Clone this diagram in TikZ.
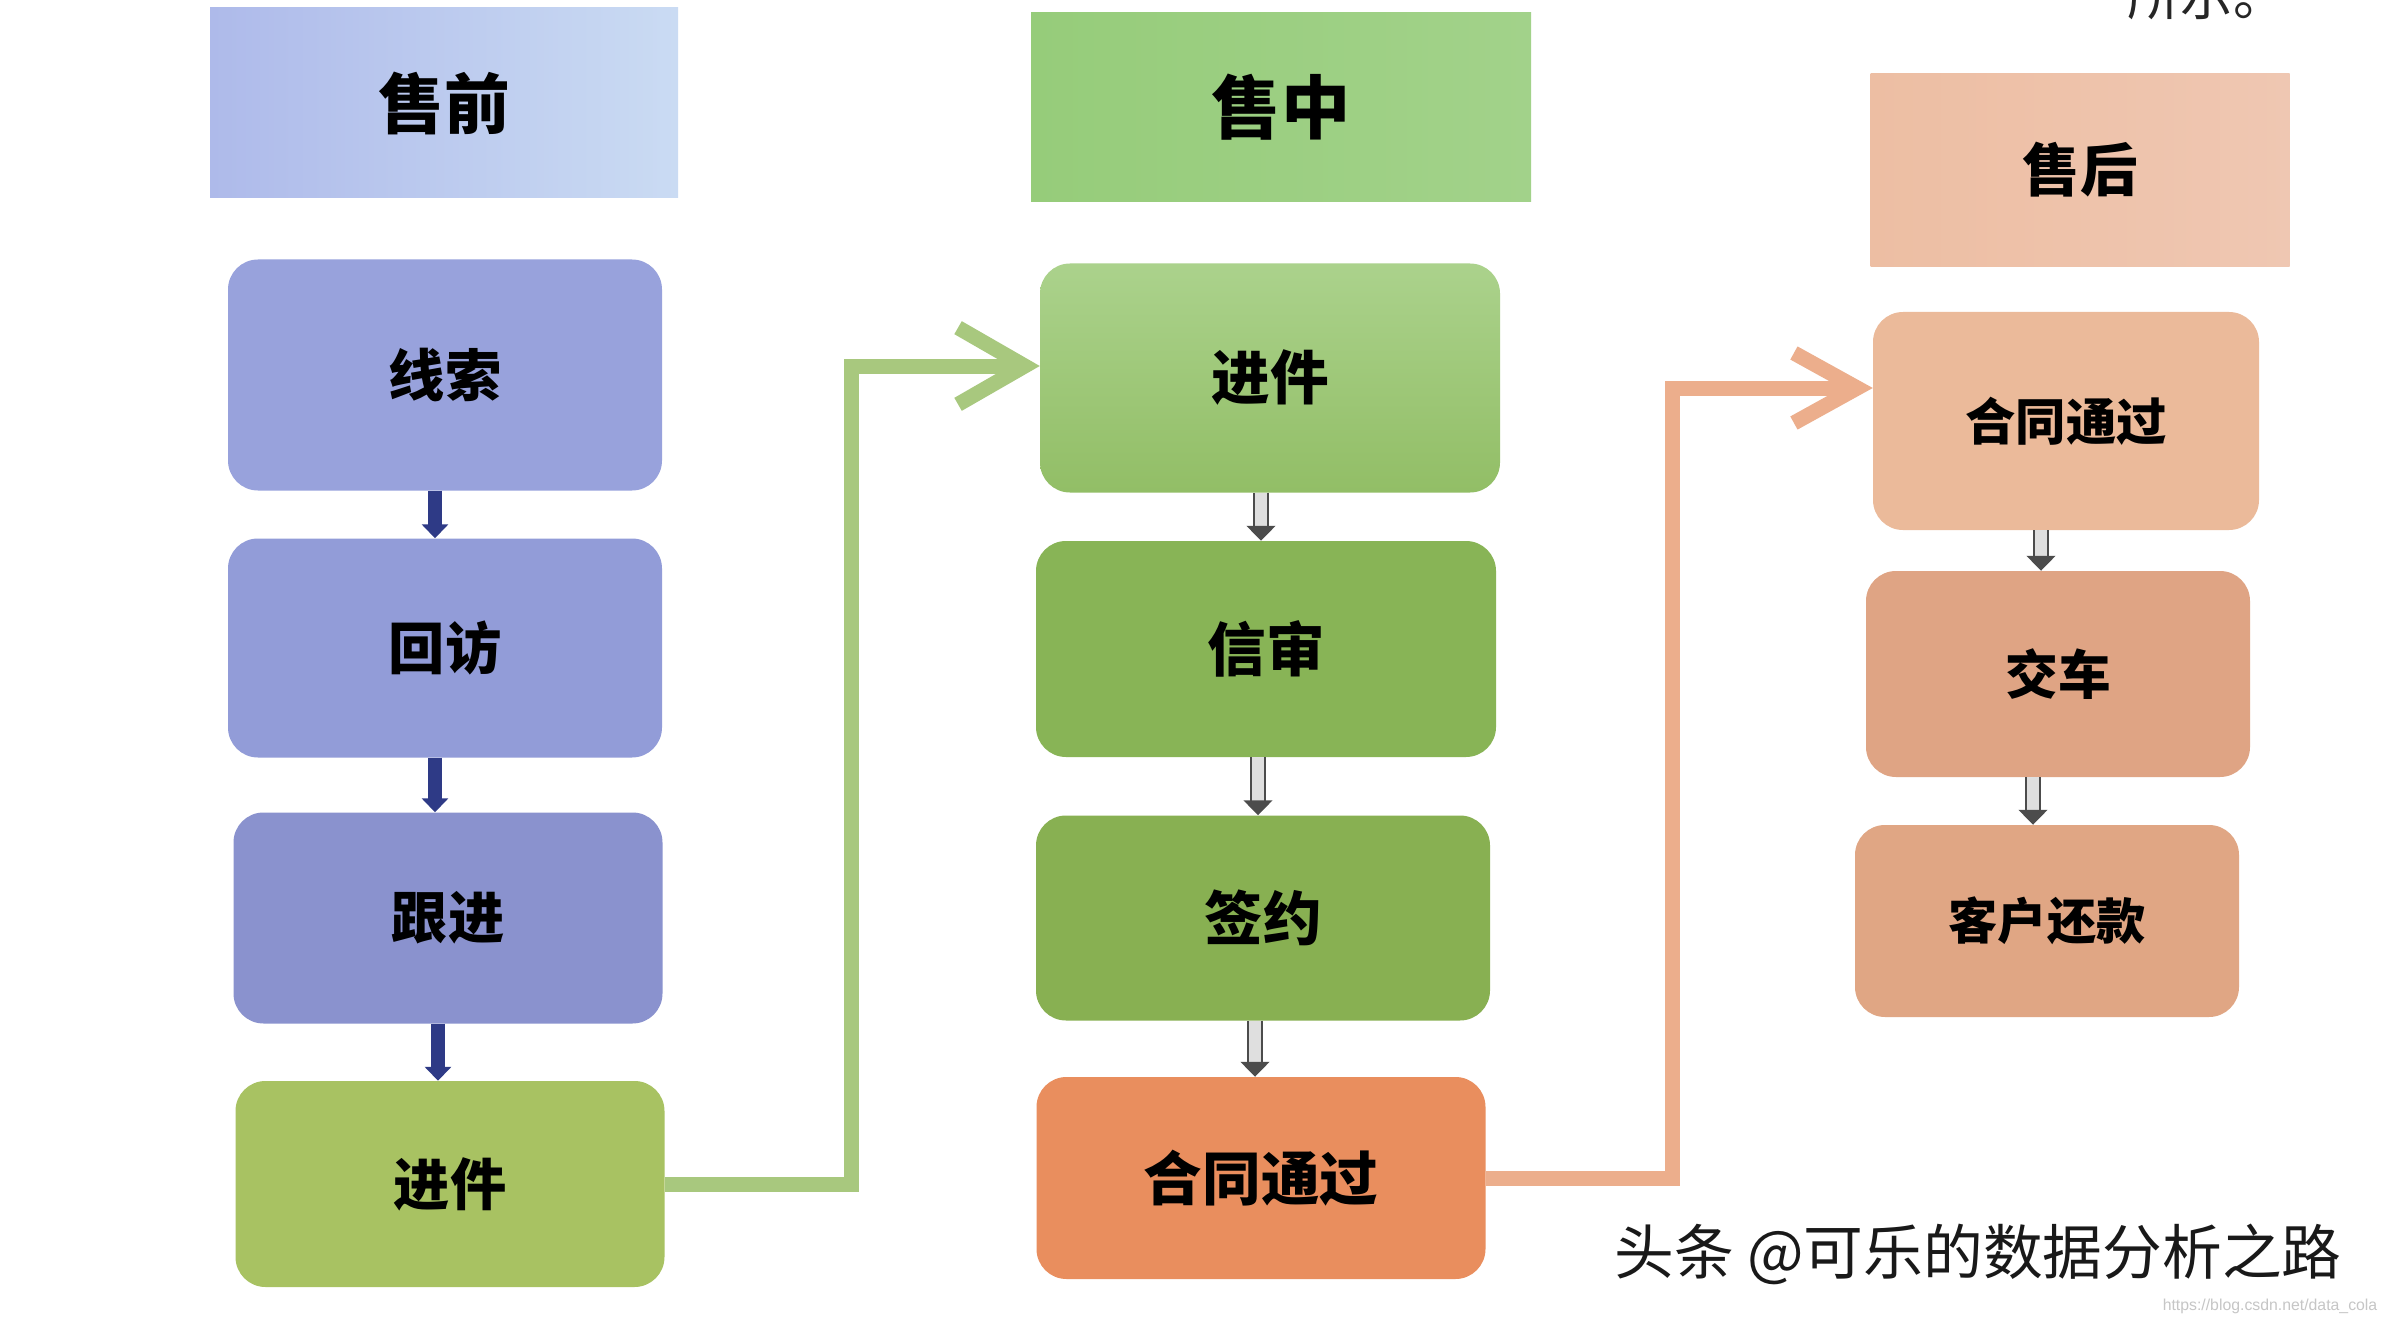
\documentclass[tikz,border=0pt]{standalone}
\usepackage{fontspec}
\setmainfont{Noto Sans CJK SC}
\newfontfamily\urlfont{Liberation Sans}
\usetikzlibrary{arrows.meta}
\definecolor{hA1}{HTML}{AEBAEA}
\definecolor{hA2}{HTML}{CADBF3}
\definecolor{hB1}{HTML}{96CC7A}
\definecolor{hB2}{HTML}{A2D28A}
\definecolor{hC1}{HTML}{EDBEA3}
\definecolor{hC2}{HTML}{EFC7B2}
\definecolor{cA1}{HTML}{98A2DC}
\definecolor{cA2}{HTML}{929CD8}
\definecolor{cA3}{HTML}{8A92CE}
\definecolor{cA4}{HTML}{A8C262}
\definecolor{cB1t}{HTML}{ABD28C}
\definecolor{cB1b}{HTML}{92BE66}
\definecolor{cB2}{HTML}{88B456}
\definecolor{cB3}{HTML}{88B052}
\definecolor{cB4}{HTML}{E98E5E}
\definecolor{cC1}{HTML}{EBBA9A}
\definecolor{cC2}{HTML}{DFA484}
\definecolor{cC3}{HTML}{E0A684}
\definecolor{gline}{HTML}{A8C87E}
\definecolor{oline}{HTML}{ECAE8C}
\definecolor{navy}{HTML}{2E3A86}
\begin{document}
\begin{tikzpicture}[x=0.3mm,y=-0.3mm,
  sz/.style 2 args={minimum width=#1*0.3mm, minimum height=#2*0.3mm},
  box/.style={rounded corners=9mm, inner sep=0pt, text=black},
  hdr/.style={inner sep=0pt, text=black, font=\bfseries\fontsize{56}{60}\selectfont},
  fA/.style={font=\bfseries\fontsize{48}{52}\selectfont},
  fB/.style={font=\bfseries\fontsize{50}{54}\selectfont},
  fC/.style={font=\bfseries\fontsize{43}{47}\selectfont},
  barrow/.style={draw=navy, line width=4.2mm, -{Triangle[length=4.2mm,width=7.8mm]}},
  garrow/.style={draw=gray!60!black, double=gray!25, line width=0.8mm, double distance=3.4mm, -{Triangle[length=4.5mm,width=8.6mm]}},
  gconn/.style={draw=gline, line width=4.5mm, -{Straight Barb[length=20mm,width=23mm]}},
  oconn/.style={draw=oline, line width=4.5mm, -{Straight Barb[length=19mm,width=21mm]}}
]
\useasboundingbox (0,0) rectangle (2388,1324);
\fill[white] (0,0) rectangle (2388,1324);

% headers
\node[hdr, sz={468}{190}, left color=hA1, right color=hA2] (h1) at (444,103) {售前};
\node[hdr, sz={500}{189}, left color=hB1, right color=hB2, font=\bfseries\fontsize{59}{63}\selectfont] (h2) at (1281,107) {售中};
\node[hdr, sz={419}{193}, left color=hC1, right color=hC2, font=\bfseries\fontsize{49}{53}\selectfont] (h3) at (2080,170) {售后};

% column 1
\node[box, fA, sz={434}{231}, fill=cA1] (a1) at (445,375) {线索};
\node[box, fA, sz={434}{219}, fill=cA2] (a2) at (445,648) {回访};
\node[box, fA, sz={429}{211}, fill=cA3] (a3) at (448,918) {跟进};
\node[box, fA, sz={429}{206}, fill=cA4] (a4) at (450,1184) {进件};

% column 2
\node[box, fB, sz={460}{229}, top color=cB1t, bottom color=cB1b] (b1) at (1270,378) {进件};
\node[box, fB, sz={460}{216}, fill=cB2] (b2) at (1266,649) {信审};
\node[box, fB, sz={454}{205}, fill=cB3] (b3) at (1263,918) {签约};
\node[box, fB, sz={449}{202}, fill=cB4] (b4) at (1261,1178) {合同通过};

% column 3
\node[box, fC, sz={386}{218}, fill=cC1] (c1) at (2066,421) {合同通过};
\node[box, sz={384}{206}, fill=cC2, font=\bfseries\fontsize{45}{49}\selectfont] (c2) at (2058,674) {交车};
\node[box, sz={384}{192}, fill=cC3, font=\bfseries\fontsize{42}{46}\selectfont] (c3) at (2047,921) {客户还款};

% small arrows
\coordinate (a1s) at ([xshift=-3mm]a1.south);
\coordinate (a2s) at ([xshift=-3mm]a2.south);
\coordinate (a3s) at ([xshift=-3mm]a3.south);
\draw[barrow] (a1s) -- (a1s |- a2.north);
\draw[barrow] (a2s) -- (a2s |- a3.north);
\draw[barrow] (a3s) -- (a3s |- a4.north);
\coordinate (b1s) at ([xshift=-2.7mm]b1.south);
\coordinate (b2s) at ([xshift=-2.4mm]b2.south);
\coordinate (b3s) at ([xshift=-2.4mm]b3.south);
\draw[garrow] (b1s) -- (b1s |- b2.north);
\draw[garrow] (b2s) -- (b2s |- b3.north);
\draw[garrow] (b3s) -- (b3s |- b4.north);
\coordinate (c1s) at ([xshift=-7.5mm]c1.south);
\coordinate (c2s) at ([xshift=-7.5mm]c2.south);
\draw[garrow] (c1s) -- (c1s |- c2.north);
\draw[garrow] (c2s) -- (c2s |- c3.north);

% long connectors
\coordinate (k1) at (851,700);
\coordinate (k2) at (1672,700);
\coordinate (b1in) at ([yshift=3.6mm]b1.west);
\coordinate (c1in) at ([yshift=9.9mm]c1.west);
\draw[gconn] (a4.east) -| (k1 |- b1in) -- (b1in);
\draw[oconn] (b4.east) -| (k2 |- c1in) -- (c1in);

% texts
\node[text=black!85, font=\fontsize{45}{49}\selectfont] (top) at (2207,-4) {所示。};
\node[text=black!90, font=\fontsize{51}{55}\selectfont] (wm) at (1978,1254) {头条 @可乐的数据分析之路};
\node[text=gray!45, font=\urlfont\fontsize{13.5}{15}\selectfont] (url) at (2270,1306) {https://blog.csdn.net/data\_cola};
\end{tikzpicture}
\end{document}
